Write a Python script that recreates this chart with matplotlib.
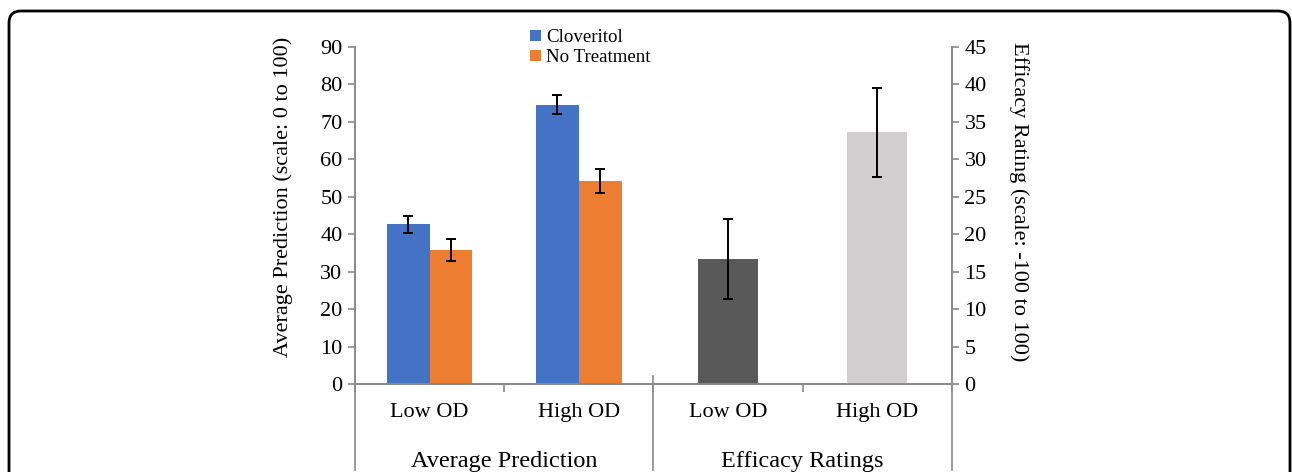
import matplotlib.pyplot as plt
import numpy as np
from matplotlib.patches import FancyBboxPatch
from matplotlib.transforms import IdentityTransform

plt.rcParams["font.family"] = ["Liberation Serif", "DejaVu Serif"]

# data
categories = ["Low OD", "High OD", "Low OD", "High OD"]
groups = ["Average Prediction", "Efficacy Ratings"]
series = ["Cloveritol", "No Treatment"]
pred_cloveritol = [42.7, 74.6]
pred_cloveritol_err = [2.3, 2.5]
pred_none = [35.7, 54.2]
pred_none_err = [2.9, 3.3]
efficacy = [16.7, 33.6]
efficacy_err = [5.4, 5.9]

blue = "#4472C4"
orange = "#ED7D31"
efficacy_colors = ["#595959", "#D0CECE"]
axis_gray = "#898989"

fig = plt.figure(figsize=(12.92, 4.72), dpi=100)
ax = fig.add_axes([0.2748, 0.1864, 0.462, 0.714])
ax2 = ax.twinx()

x = np.arange(len(categories))
w = 0.287
err_kw = dict(ecolor="black", elinewidth=1.4, capsize=3.5, capthick=1.4)
ax.bar(x[:2] - w / 2, pred_cloveritol, w, yerr=pred_cloveritol_err, color=blue,
       label=series[0], error_kw=err_kw)
ax.bar(x[:2] + w / 2, pred_none, w, yerr=pred_none_err, color=orange,
       label=series[1], error_kw=err_kw)
ax2.bar(x[2:], efficacy, 0.4, yerr=efficacy_err, color=efficacy_colors, error_kw=err_kw)

ax.set_xlim(-0.5, 3.5)
ax.set_ylim(0, 90)
ax.set_yticks(range(0, 91, 10))
ax2.set_ylim(0, 45)
ax2.set_yticks(range(0, 46, 5))

for a in (ax, ax2):
    for s in a.spines.values():
        s.set_color(axis_gray)
        s.set_linewidth(1.3)
    a.spines["top"].set_visible(False)
    a.tick_params(axis="y", colors=axis_gray, labelcolor="black", labelsize=16,
                  length=5, width=1.2, direction="out", pad=4)

ax.set_ylabel("Average Prediction (scale: 0 to 100)", fontsize=16)
ax.yaxis.set_label_coords(-0.104, 0.555)
ax2.set_ylabel("Efficacy Rating (scale: -100 to 100)", fontsize=16, rotation=-90,
               va="center")
ax2.yaxis.set_label_coords(1.112, 0.54)

# multi-level category axis
ax.set_xticks([-0.5, 0.5, 1.5, 2.5, 3.5])
ax.set_xticklabels([])
ax.tick_params(axis="x", colors=axis_gray, length=6, width=1.2, direction="out")
trans = ax.get_xaxis_transform()
for xi, lab in zip(x, categories):
    ax.text(xi, -0.085, lab, transform=trans, ha="center", va="center", fontsize=16)
for xi, lab in zip([0.5, 2.5], groups):
    ax.text(xi, -0.23, lab, transform=trans, ha="center", va="center", fontsize=17.5)
for xs, top in [(-0.5, 0.0), (1.5, 0.024), (3.5, 0.0)]:
    ax.plot([xs, xs], [top, -0.255], transform=trans, color=axis_gray, lw=1.2,
            clip_on=False)

fig.legend(loc="upper left", bbox_to_anchor=(521 / 1292, 1 - 20 / 472), frameon=False,
           fontsize=13.6, handlelength=0.55, handleheight=0.55, handletextpad=0.3,
           borderpad=0, labelspacing=0.15)

frame = FancyBboxPatch((9, -40), 1281, 472 - 11 + 40, boxstyle="round,pad=0,rounding_size=12",
                       transform=IdentityTransform(), fill=False, edgecolor="black", lw=2)
fig.patches.append(frame)

fig.savefig("out.png", dpi=100)
